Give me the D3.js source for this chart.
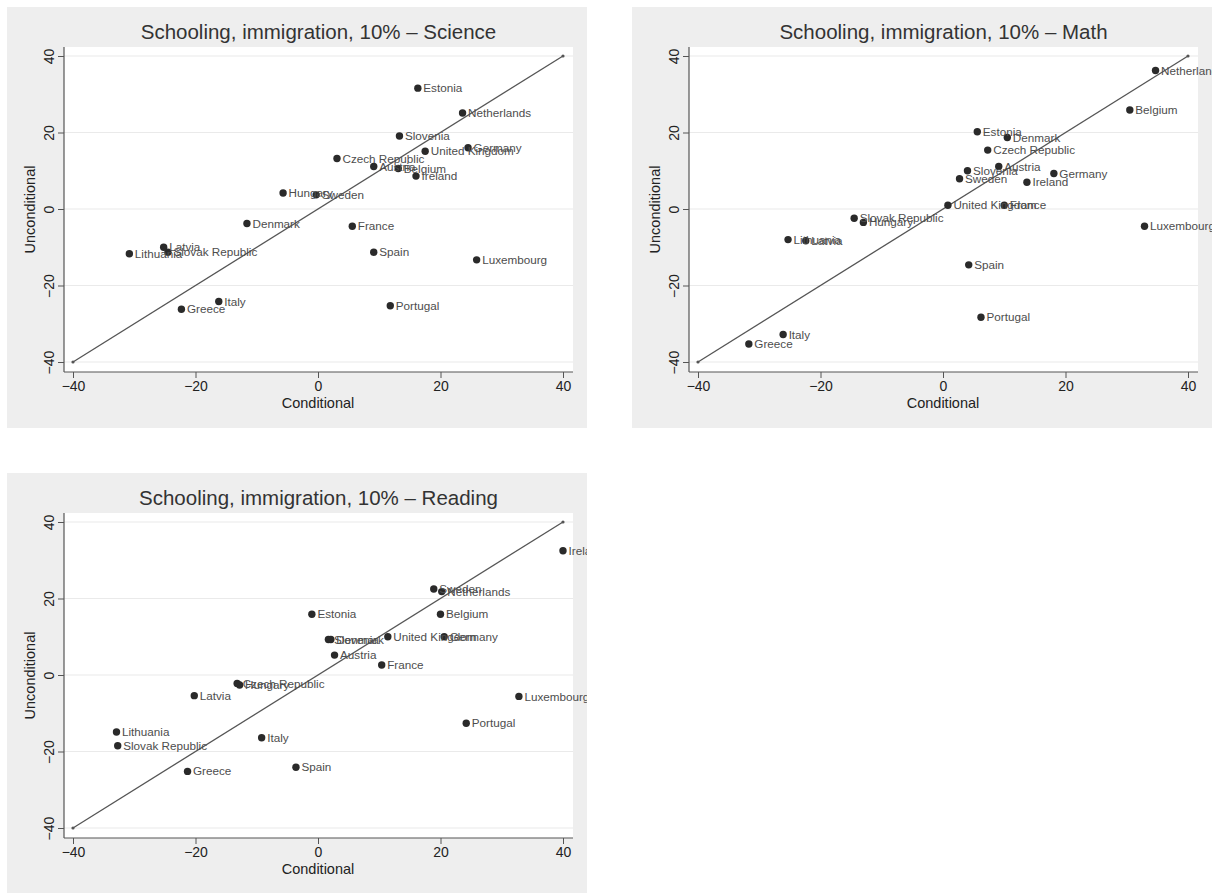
<!DOCTYPE html>
<html>
<head>
<meta charset="utf-8">
<script src="https://cdn.jsdelivr.net/npm/d3@7"></script>
<style>
  body { margin: 0; background: #ffffff; }
  svg { display: block; }
  text { font-family: "Liberation Sans", Arial, Helvetica, sans-serif; }
</style>
</head>
<body>
<svg id="chart" width="1214" height="893"></svg>
<script>
// ---------- data ----------
const tickValues = [-40, -20, 0, 20, 40];
const xTitle = "Conditional";
const yTitle = "Unconditional";

const scienceTitle = "Schooling, immigration, 10% \u2013 Science";
const scienceCountries = ["Estonia","Netherlands","Slovenia","Germany","United Kingdom","Czech Republic","Austria","Belgium","Ireland","Hungary","Sweden","Denmark","France","Latvia","Slovak Republic","Lithuania","Spain","Luxembourg","Italy","Greece","Portugal"];
const scienceCond   = [16.3, 23.6, 13.3, 24.5, 17.5, 3.1, 9.1, 13.1, 16.0, -5.7, -0.3, -11.6, 5.6, -25.2, -24.5, -30.8, 9.1, 25.9, -16.2, -22.3, 11.8];
const scienceUncond = [31.6, 25.1, 19.1, 16.0, 15.1, 13.2, 11.1, 10.6, 8.6, 4.2, 3.7, -3.8, -4.5, -10.0, -11.3, -11.7, -11.3, -13.3, -24.2, -26.2, -25.3];

const mathTitle = "Schooling, immigration, 10% \u2013 Math";
const mathCountries = ["Netherlands","Belgium","Estonia","Denmark","Czech Republic","Austria","Slovenia","Germany","Sweden","Ireland","United Kingdom","France","Slovak Republic","Hungary","Luxembourg","Lithuania","Latvia","Spain","Portugal","Italy","Greece"];
const mathCond   = [34.7, 30.5, 5.6, 10.5, 7.3, 9.1, 4.0, 18.1, 2.7, 13.7, 0.8, 10.0, -14.5, -13.0, 32.9, -25.3, -22.4, 4.2, 6.2, -26.1, -31.7];
const mathUncond = [36.2, 25.9, 20.2, 18.7, 15.4, 11.1, 10.0, 9.3, 7.9, 7.0, 1.0, 1.0, -2.4, -3.5, -4.5, -8.0, -8.3, -14.6, -28.3, -32.8, -35.3];

const readingTitle = "Schooling, immigration, 10% \u2013 Reading";
const readingCountries = ["Ireland","Sweden","Netherlands","Estonia","Belgium","Slovenia","Denmark","United Kingdom","Germany","Austria","France","Czech Republic","Hungary","Latvia","Luxembourg","Portugal","Lithuania","Italy","Slovak Republic","Greece","Spain"];
const readingCond   = [40.0, 18.9, 20.2, -1.0, 20.0, 1.7, 2.1, 11.4, 20.6, 2.7, 10.4, -13.2, -12.8, -20.2, 32.8, 24.2, -32.9, -9.2, -32.7, -21.3, -3.6];
const readingUncond = [32.5, 22.5, 21.8, 15.9, 15.9, 9.3, 9.3, 10.0, 10.0, 5.2, 2.6, -2.2, -2.6, -5.4, -5.6, -12.6, -14.9, -16.4, -18.5, -25.2, -24.1];

const refLine = [-40, 40];

// ---------- layout ----------
const svg = d3.select("#chart");
const panels = [
  {title: scienceTitle, countries: scienceCountries, cond: scienceCond, uncond: scienceUncond, ox: 7, oy: 7, w: 580, h: 421},
  {title: mathTitle, countries: mathCountries, cond: mathCond, uncond: mathUncond, ox: 632, oy: 7, w: 580, h: 421},
  {title: readingTitle, countries: readingCountries, cond: readingCond, uncond: readingUncond, ox: 7, oy: 473, w: 580, h: 421}
];

const fmt = d3.format("d");

panels.forEach((p, i) => {
  const g = svg.append("g").attr("transform", `translate(${p.ox},${p.oy})`);
  const clipId = "clip" + i;
  svg.append("defs").append("clipPath").attr("id", clipId)
    .append("rect").attr("x", 0).attr("y", 0).attr("width", p.w).attr("height", p.h);
  const inner = g.append("g").attr("clip-path", `url(#${clipId})`);

  inner.append("rect").attr("width", p.w).attr("height", p.h).attr("fill", "#eeeeee");

  const x = d3.scaleLinear().domain([-40, 40]).range([66, 556]);
  const y = d3.scaleLinear().domain([-40, 40]).range([355, 49]);
  const plotL = 57, plotR = 566, plotT = 40, plotB = 365;

  inner.append("rect").attr("x", plotL).attr("y", plotT)
    .attr("width", plotR - plotL).attr("height", plotB - plotT).attr("fill", "#ffffff");

  // gridlines
  inner.selectAll(".grid").data(tickValues).enter().append("line")
    .attr("x1", plotL).attr("x2", plotR)
    .attr("y1", d => y(d)).attr("y2", d => y(d))
    .attr("stroke", "#eaeaea").attr("stroke-width", 1.2);

  // axes
  const yAxis = d3.axisLeft(y).tickValues(tickValues).tickSize(6).tickSizeOuter(0).tickFormat(fmt);
  const yg = inner.append("g").attr("transform", `translate(${plotL},0)`).call(yAxis);
  yg.select(".domain").attr("d", `M0,${plotT}V${plotB}`).attr("stroke", "#555").attr("stroke-width", 1.2);
  yg.selectAll(".tick line").attr("stroke", "#555");
  yg.selectAll(".tick text")
    .attr("font-size", 14).attr("fill", "#222")
    .attr("x", null)
    .attr("text-anchor", "middle")
    .attr("transform", "translate(-10,0) rotate(-90)")
    .attr("dy", "0em");

  const xAxis = d3.axisBottom(x).tickValues(tickValues).tickSize(6).tickSizeOuter(0).tickFormat(fmt);
  const xg = inner.append("g").attr("transform", `translate(0,${plotB})`).call(xAxis);
  xg.select(".domain").attr("d", `M${plotL},0H${plotR}`).attr("stroke", "#555").attr("stroke-width", 1.2);
  xg.selectAll(".tick line").attr("stroke", "#555");
  xg.selectAll(".tick text").attr("font-size", 14).attr("fill", "#222").attr("y", 9);

  // titles
  inner.append("text").attr("x", (plotL + plotR) / 2).attr("y", 32)
    .attr("text-anchor", "middle").attr("font-size", 20.5).attr("fill", "#333").text(p.title);
  inner.append("text").attr("x", x(0)).attr("y", 401)
    .attr("text-anchor", "middle").attr("font-size", 14.5).attr("fill", "#222").text(xTitle);
  inner.append("text").attr("transform", `translate(28,${(plotT + plotB) / 2}) rotate(-90)`)
    .attr("text-anchor", "middle").attr("font-size", 14.5).attr("fill", "#222").text(yTitle);

  // 45-degree reference line
  inner.append("line")
    .attr("x1", x(refLine[0])).attr("y1", y(refLine[0]))
    .attr("x2", x(refLine[1])).attr("y2", y(refLine[1]))
    .attr("stroke", "#555").attr("stroke-width", 1.3);
  inner.selectAll(".endpt").data(refLine).enter().append("circle")
    .attr("cx", d => x(d)).attr("cy", d => y(d)).attr("r", 1.6).attr("fill", "#555");

  // points
  const pts = p.countries.map((c, k) => ({name: c, cx: p.cond[k], cy: p.uncond[k]}));
  inner.selectAll(".pt").data(pts).enter().append("circle")
    .attr("cx", d => x(d.cx)).attr("cy", d => y(d.cy)).attr("r", 3.7).attr("fill", "#2a2a2a");
  inner.selectAll(".lbl").data(pts).enter().append("text")
    .attr("x", d => x(d.cx) + 5.5).attr("y", d => y(d.cy)).attr("dy", "0.35em")
    .attr("font-size", 11.7).attr("fill", "#4d4d4d").text(d => d.name);
});
</script>
</body>
</html>
